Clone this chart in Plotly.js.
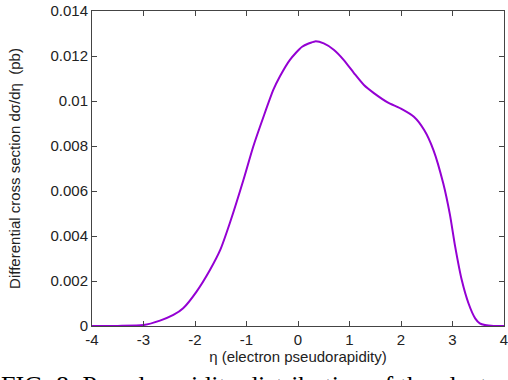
<!DOCTYPE html>
<html>
<head>
<meta charset="utf-8">
<script src="https://cdn.plot.ly/plotly-3.0.1.min.js"></script>
<style>html,body{margin:0;padding:0;background:#fff;}#plot{width:508px;height:380px;}</style>
</head>
<body>
<div id="plot"></div>
<script>
const eta = [-4.0, -3.5, -3.0, -2.68, -2.42, -2.23, -1.97, -1.71, -1.51, -1.32, -1.06, -0.87, -0.67, -0.48, -0.35, -0.16, 0.08, 0.33, 0.5, 0.7, 0.89, 1.09, 1.28, 1.48, 1.74, 1.99, 2.25, 2.45, 2.63, 2.82, 2.95, 3.05, 3.18, 3.31, 3.44, 3.53, 3.63, 3.8, 4.0];
const dsigma = [0, 0.000005, 0.00004, 0.00024, 0.00049, 0.00079, 0.00153, 0.00249, 0.00338, 0.0046, 0.00649, 0.00797, 0.0093, 0.01049, 0.0111, 0.01182, 0.01241, 0.01265, 0.01256, 0.01227, 0.01182, 0.01123, 0.01071, 0.01034, 0.00994, 0.00967, 0.0093, 0.00871, 0.00782, 0.00634, 0.00495, 0.00355, 0.00204, 0.00101, 0.00034, 0.00012, 0.00004, 0, 0];
const xTicks = [-4, -3, -2, -1, 0, 1, 2, 3, 4];
const yTicks = [0, 0.002, 0.004, 0.006, 0.008, 0.01, 0.012, 0.014];
const yTickText = ["0", "0.002", "0.004", "0.006", "0.008", "0.01", "0.012", "0.014"];
const caption = "FIG. 8: Pseudorapidity distribution of the electron";

const font = {family: "Liberation Sans, Arial, sans-serif", size: 15, color: "#222"};
const trace = {
  x: eta, y: dsigma, type: "scatter", mode: "lines",
  line: {color: "#9400d3", width: 2, shape: "spline", smoothing: 0.6},
  hoverinfo: "skip"
};
const axisCommon = {
  showline: true, linecolor: "#444", linewidth: 1, mirror: "ticks",
  ticks: "inside", ticklen: 5, tickcolor: "#444", tickwidth: 1,
  showgrid: false, zeroline: false, tickfont: font, ticklabeloverflow: "allow"
};
const layout = {
  width: 508, height: 380,
  margin: {l: 92, r: 4, t: 11, b: 54},
  paper_bgcolor: "#fff", plot_bgcolor: "#fff",
  showlegend: false,
  xaxis: Object.assign({}, axisCommon, {
    range: [-4, 4], tickvals: xTicks, ticktext: xTicks.map(String),
    title: {text: "η (electron pseudorapidity)", font: {family: font.family, size: 15, color: "#222"}, standoff: 4}
  }),
  yaxis: Object.assign({}, axisCommon, {
    range: [0, 0.014], tickvals: yTicks, ticktext: yTickText,
    title: {text: "Differential cross section dσ/dη  (pb)", font: {family: font.family, size: 15, color: "#222"}, standoff: 26}
  }),
  annotations: [{
    text: caption,
    xref: "paper", yref: "paper", x: -0.226, y: -0.135, xanchor: "left", yanchor: "top",
    showarrow: false,
    font: {family: "Liberation Serif, Times New Roman, serif", size: 26, color: "#000"}
  }]
};
Plotly.newPlot("plot", [trace], layout, {displayModeBar: false, staticPlot: true});
</script>
</body>
</html>
